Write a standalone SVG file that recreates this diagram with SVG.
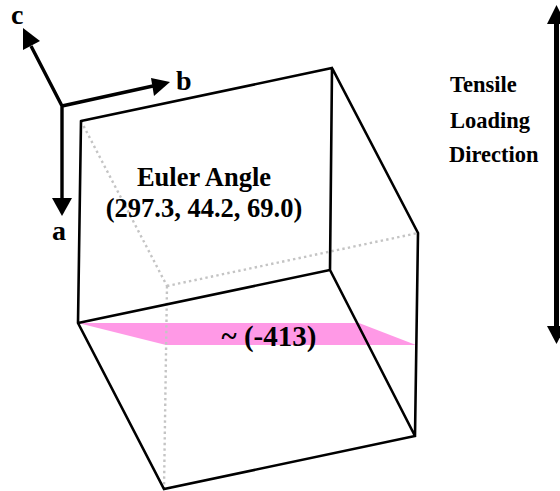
<svg xmlns="http://www.w3.org/2000/svg" width="560" height="491" viewBox="0 0 560 491">
<style>
text{font-family:"Liberation Serif","Times New Roman",serif;font-weight:bold;fill:#000}
.e{stroke:#000;stroke-width:2.6;fill:none;stroke-linecap:round}
.d{stroke:#c4c4c4;stroke-width:2.4;fill:none;stroke-dasharray:2.4 3.2}
.a{stroke:#000;stroke-width:3.4;fill:none}
.h{fill:#000}
</style>
<rect width="560" height="491" fill="#fff"/>
<g id="plane"><polygon points="78,323 359,323 416,345 166,345" fill="#ff99e6"/></g>
<g id="connectors">
<path class="d" d="M81,121L167,286M167,286L418,233M167,286L164,489"/>
<path class="e" d="M81,121L332,68L418,233L415,436L164,489L78,323L81,121M78,323L330,270L332,68M330,270L415,436"/>
<path class="a" d="M62,106L31,46M62,106L153,86M62,106L62,198"/>
<polygon class="h" points="23,28 40,41 23,50"/>
<polygon class="h" points="170,82 151,78 154,96"/>
<polygon class="h" points="62,216 52,198 72,198"/>
<path d="M556.500,22V328" stroke="#000" stroke-width="5" fill="none"/>
<polygon class="h" points="556.500,5 547,24 566,24"/>
<polygon class="h" points="556.500,344 547,326 566,326"/>
</g>
<g id="axis-labels">
<text x="11" y="24" font-size="28">c</text>
<text x="176" y="90" font-size="28">b</text>
<text x="52" y="240" font-size="28">a</text>
</g>
<g id="euler">
<text x="204" y="186" font-size="26.500" text-anchor="middle">Euler Angle</text>
<text x="204" y="217" font-size="26.500" text-anchor="middle">(297.3, 44.2, 69.0)</text>
</g>
<g id="plane-label"><text x="269" y="346" font-size="29" text-anchor="middle">~ (-413)</text></g>
<g id="tensile">
<text x="450" y="92" font-size="22.500">Tensile</text>
<text x="450" y="128" font-size="22.500">Loading</text>
<text x="449" y="162" font-size="22.500">Direction</text>
</g>
</svg>
